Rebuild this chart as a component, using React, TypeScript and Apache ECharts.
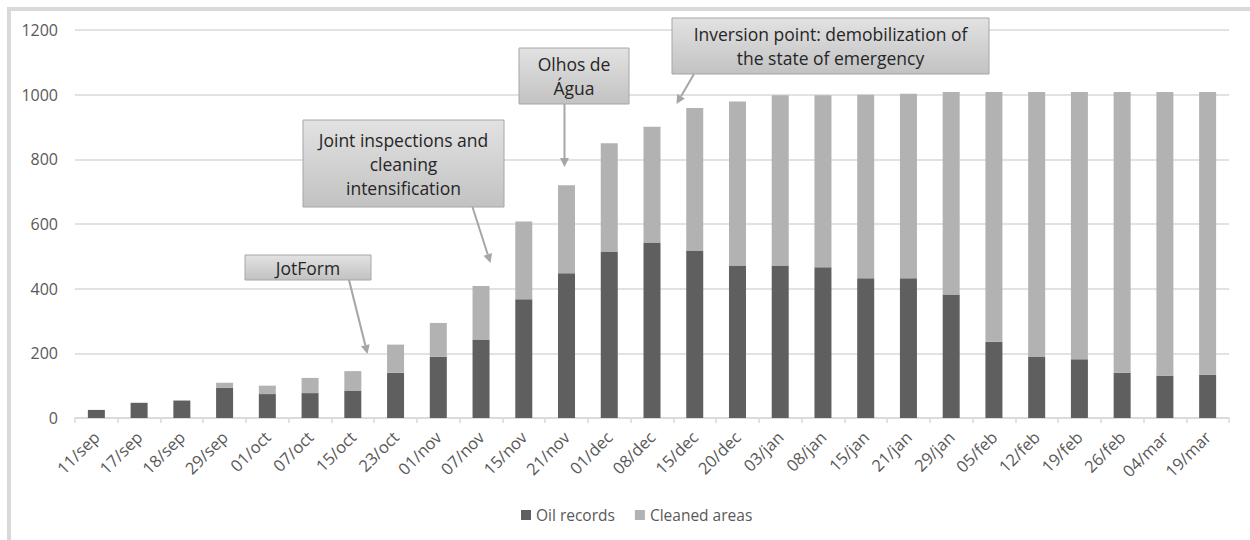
import React, { useEffect, useRef } from "react";
import * as echarts from "echarts";

const categories = [
  "11/sep", "17/sep", "18/sep", "29/sep", "01/oct", "07/oct", "15/oct", "23/oct",
  "01/nov", "07/nov", "15/nov", "21/nov", "01/dec", "08/dec", "15/dec", "20/dec",
  "03/jan", "08/jan", "15/jan", "21/jan", "29/jan", "05/feb", "12/feb", "19/feb",
  "26/feb", "04/mar", "19/mar",
];

const oilRecords = [
  25, 47, 54, 94, 74, 77, 85, 140, 189, 243, 367, 448, 515, 543, 518, 472,
  472, 466, 432, 432, 382, 236, 189, 182, 140, 131, 134,
];

const cleanedAreas = [
  0, 0, 0, 15, 26, 47, 60, 87, 105, 165, 241, 272, 335, 358, 441, 507,
  526, 532, 568, 571, 626, 772, 819, 826, 868, 877, 874,
];

const yTicks = { min: 0, max: 1200, interval: 200 };

const FONT = "'Open Sans', 'Noto Sans', sans-serif";

type Note = { lines: string[]; x: number; y: number; w: number; h: number; from: [number, number]; to: [number, number] };

const notes: Note[] = [
  { lines: ["JotForm"], x: 245, y: 255, w: 126, h: 25, from: [349, 280], to: [367.5, 354] },
  { lines: ["Joint inspections and", "cleaning", "intensification"], x: 303, y: 120, w: 201, h: 87, from: [472.5, 207], to: [490.5, 263] },
  { lines: ["Olhos de", "Água"], x: 519, y: 48, w: 110, h: 56, from: [564.5, 104], to: [564.5, 167] },
  { lines: ["Inversion point: demobilization of", "the state of emergency"], x: 672, y: 18, w: 317, h: 56, from: [694, 74], to: [676.5, 104] },
];

function buildNote(n: Note) {
  const els: any[] = [];
  els.push({
    type: "rect",
    shape: { x: n.x, y: n.y, width: n.w, height: n.h },
    style: {
      fill: new echarts.graphic.LinearGradient(0, 0, 0, 1, [
        { offset: 0, color: "#e2e2e2" },
        { offset: 1, color: "#c2c2c2" },
      ]),
      stroke: "#a6a6a6",
      lineWidth: 1,
    },
    z: 100,
  });
  const lh = 24;
  const total = lh * n.lines.length;
  const startY = n.y + n.h / 2 - total / 2 + lh / 2;
  n.lines.forEach((ln, i) => {
    els.push({
      type: "text",
      x: n.x + n.w / 2,
      y: startY + i * lh,
      style: {
        text: ln,
        fill: "#262626",
        font: `17.5px ${FONT}`,
        align: "center",
        verticalAlign: "middle",
      },
      z: 101,
    });
  });
  const [x1, y1] = n.from;
  const [x2, y2] = n.to;
  const dx = x2 - x1;
  const dy = y2 - y1;
  const len = Math.sqrt(dx * dx + dy * dy);
  const ux = dx / len;
  const uy = dy / len;
  const head = 9;
  const half = 4.5;
  const bx = x2 - ux * head;
  const by = y2 - uy * head;
  els.push({
    type: "line",
    shape: { x1, y1, x2: bx, y2: by },
    style: { stroke: "#a6a6a6", lineWidth: 2 },
    z: 100,
  });
  els.push({
    type: "polygon",
    shape: {
      points: [
        [x2, y2],
        [bx - uy * half, by + ux * half],
        [bx + uy * half, by - ux * half],
      ],
    },
    style: { fill: "#a6a6a6" },
    z: 100,
  });
  return els;
}

export default function App() {
  const ref = useRef<HTMLDivElement>(null);
  useEffect(() => {
    if (!ref.current) return;
    const chart = echarts.init(ref.current, null, { renderer: "svg" });
    const graphics: any[] = [
      {
        type: "rect",
        shape: { x: 9, y: 9, width: 1300, height: 600 },
        style: { fill: "none", stroke: "#d9d9d9", lineWidth: 4 },
        z: 0,
      },
    ];
    notes.forEach((n) => graphics.push(...buildNote(n)));
    chart.setOption({
      animation: false,
      backgroundColor: "#ffffff",
      textStyle: { fontFamily: FONT },
      grid: { left: 75, right: 21, top: 30, bottom: 122, containLabel: false },
      legend: {
        data: ["Oil records", "Cleaned areas"],
        left: 516,
        top: 502,
        icon: "rect",
        itemWidth: 10,
        itemHeight: 10,
        itemGap: 20,
        textStyle: { color: "#595959", fontSize: 15.5, fontFamily: FONT },
      },
      xAxis: {
        type: "category",
        data: categories,
        boundaryGap: true,
        axisLine: { lineStyle: { color: "#d9d9d9", width: 1.5 } },
        axisTick: { show: true, length: 5, lineStyle: { color: "#d9d9d9", width: 1.5 } },
        axisLabel: { rotate: 45, color: "#595959", fontSize: 16.5, fontFamily: FONT, margin: 16, interval: 0 },
      },
      yAxis: {
        type: "value",
        min: yTicks.min,
        max: yTicks.max,
        interval: yTicks.interval,
        axisLine: { show: false },
        axisTick: { show: false },
        axisLabel: {
          color: "#595959",
          fontSize: 16,
          fontFamily: FONT,
          margin: 17,
          formatter: (v: number) => String(v),
        },
        splitLine: { lineStyle: { color: "#d9d9d9", width: 1.5 } },
      },
      series: [
        {
          name: "Oil records",
          type: "bar",
          stack: "total",
          data: oilRecords,
          barWidth: 17,
          itemStyle: { color: "#5f5f5f" },
        },
        {
          name: "Cleaned areas",
          type: "bar",
          stack: "total",
          data: cleanedAreas,
          barWidth: 17,
          itemStyle: { color: "#b2b2b2" },
        },
      ],
      graphic: graphics,
    });
    return () => chart.dispose();
  }, []);
  return (
    <div
      ref={ref}
      style={{ position: "absolute", left: 0, top: 0, width: 1250, height: 540 }}
    />
  );
}
